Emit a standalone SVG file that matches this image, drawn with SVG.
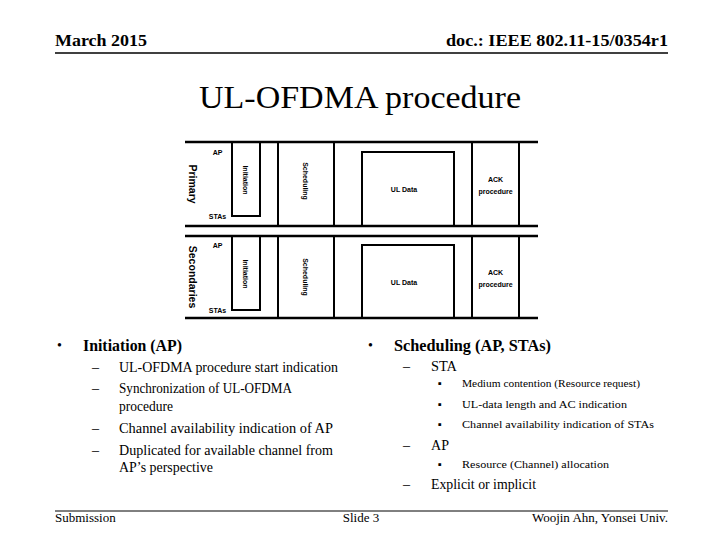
<svg xmlns="http://www.w3.org/2000/svg" width="720" height="540" viewBox="0 0 720 540">
<style>
.serif{font-family:"Liberation Serif","Times New Roman",serif;fill:#000}
.hdr{font-size:17px;font-weight:bold}
.ftr{font-size:13px}
.l1{font-size:17px;font-weight:bold}
.l2{font-size:14px}
.l3{font-size:11px}
.fig{font-family:"Liberation Sans","DejaVu Sans",sans-serif;fill:#000}
.lab{font-size:7px;font-weight:bold}
.rot{font-size:10.5px;font-weight:bold}
.ln{stroke:#000;fill:none}
</style>
<rect width="720" height="540" fill="#fff"/>
<g id="header">
<text class="serif hdr" x="55" y="46" textLength="92" lengthAdjust="spacingAndGlyphs">March 2015</text>
<text class="serif hdr" x="668" y="46" text-anchor="end" textLength="222" lengthAdjust="spacingAndGlyphs">doc.: IEEE 802.11-15/0354r1</text>
<line class="ln" x1="55" y1="53" x2="668" y2="53" stroke-width="1.5"/>
</g>
<text id="title" class="serif" x="360" y="108" font-size="32" text-anchor="middle" textLength="322" lengthAdjust="spacingAndGlyphs">UL-OFDMA procedure</text>
<g id="figure" class="ln">
<g id="row-primary" stroke-width="2.5">
<line x1="185" y1="142" x2="538" y2="142"/>
<line x1="185" y1="226" x2="538" y2="226"/>
<g stroke-width="2">
<line x1="278" y1="142" x2="278" y2="226"/>
<line x1="334" y1="142" x2="334" y2="226"/>
<line x1="472" y1="142" x2="472" y2="226"/>
<line x1="519" y1="142" x2="519" y2="226"/>
<rect x="232" y="142" width="28" height="74"/>
<rect x="362" y="152" width="92" height="74"/>
</g>
</g>
<g id="row-secondaries" stroke-width="2.5">
<line x1="185" y1="236" x2="538" y2="236"/>
<line x1="185" y1="318" x2="538" y2="318"/>
<g stroke-width="2">
<line x1="278" y1="236" x2="278" y2="318"/>
<line x1="334" y1="236" x2="334" y2="318"/>
<line x1="472" y1="236" x2="472" y2="318"/>
<line x1="519" y1="236" x2="519" y2="318"/>
<rect x="232" y="236" width="28" height="74"/>
<rect x="362" y="245" width="92" height="73"/>
</g>
</g>
</g>
<g id="figure-labels" class="fig">
<text class="rot" transform="translate(193,184) rotate(90)" text-anchor="middle" dominant-baseline="central">Primary</text>
<text class="rot" transform="translate(193,277) rotate(90)" text-anchor="middle" dominant-baseline="central">Secondaries</text>
<text class="lab" x="217.5" y="155" text-anchor="middle">AP</text>
<text class="lab" x="217.5" y="219" text-anchor="middle">STAs</text>
<text class="lab" x="217.5" y="248" text-anchor="middle">AP</text>
<text class="lab" x="217.5" y="313" text-anchor="middle">STAs</text>
<text class="lab" transform="translate(245.5,180) rotate(90)" text-anchor="middle" dominant-baseline="central">Initiation</text>
<text class="lab" transform="translate(245.5,274) rotate(90)" text-anchor="middle" dominant-baseline="central">Initiation</text>
<text class="lab" font-weight="normal" transform="translate(305.5,181) rotate(90)" text-anchor="middle" dominant-baseline="central">Scheduling</text>
<text class="lab" font-weight="normal" transform="translate(305.5,277) rotate(90)" text-anchor="middle" dominant-baseline="central">Scheduling</text>
<text class="lab" x="404" y="192" text-anchor="middle">UL Data</text>
<text class="lab" x="404" y="285" text-anchor="middle">UL Data</text>
<text class="lab" x="495.5" y="182" text-anchor="middle">ACK</text>
<text class="lab" x="495.5" y="194" text-anchor="middle">procedure</text>
<text class="lab" x="495.5" y="275" text-anchor="middle">ACK</text>
<text class="lab" x="495.5" y="287" text-anchor="middle">procedure</text>
</g>
<g id="left-column" class="serif">
<text class="l2" x="57" y="350">•</text>
<text class="l1" x="83" y="351" textLength="99" lengthAdjust="spacingAndGlyphs">Initiation (AP)</text>
<text class="l2" x="92" y="372">–</text>
<text class="l2" x="119" y="372" textLength="219" lengthAdjust="spacingAndGlyphs">UL-OFDMA procedure start indication</text>
<text class="l2" x="92" y="393">–</text>
<text class="l2" x="119" y="393" textLength="173" lengthAdjust="spacingAndGlyphs">Synchronization of UL-OFDMA</text>
<text class="l2" x="119" y="411" textLength="54" lengthAdjust="spacingAndGlyphs">procedure</text>
<text class="l2" x="92" y="433">–</text>
<text class="l2" x="119" y="433" textLength="214" lengthAdjust="spacingAndGlyphs">Channel availability indication of AP</text>
<text class="l2" x="92" y="455">–</text>
<text class="l2" x="119" y="455" textLength="214" lengthAdjust="spacingAndGlyphs">Duplicated for available channel from</text>
<text class="l2" x="119" y="472" textLength="94" lengthAdjust="spacingAndGlyphs">AP’s perspective</text>
</g>
<g id="right-column" class="serif">
<text class="l2" x="368" y="350">•</text>
<text class="l1" x="394" y="351" textLength="157" lengthAdjust="spacingAndGlyphs">Scheduling (AP, STAs)</text>
<text class="l2" x="403" y="371">–</text>
<text class="l2" x="431" y="371" textLength="26" lengthAdjust="spacingAndGlyphs">STA</text>
<text class="l3" x="438" y="387">▪</text>
<text class="l3" x="462" y="387" textLength="178" lengthAdjust="spacingAndGlyphs">Medium contention (Resource request)</text>
<text class="l3" x="438" y="408">▪</text>
<text class="l3" x="462" y="408" textLength="165" lengthAdjust="spacingAndGlyphs">UL-data length and AC indication</text>
<text class="l3" x="438" y="428">▪</text>
<text class="l3" x="462" y="428" textLength="192" lengthAdjust="spacingAndGlyphs">Channel availability indication of STAs</text>
<text class="l2" x="403" y="450">–</text>
<text class="l2" x="431" y="450" textLength="18" lengthAdjust="spacingAndGlyphs">AP</text>
<text class="l3" x="438" y="468">▪</text>
<text class="l3" x="462" y="468" textLength="147" lengthAdjust="spacingAndGlyphs">Resource (Channel) allocation</text>
<text class="l2" x="403" y="489">–</text>
<text class="l2" x="431" y="489" textLength="105" lengthAdjust="spacingAndGlyphs">Explicit or implicit</text>
</g>
<g id="footer" class="serif">
<line class="ln" x1="55" y1="511" x2="668" y2="511" stroke-width="1"/>
<text class="ftr" x="55" y="522">Submission</text>
<text class="ftr" x="361" y="522" text-anchor="middle">Slide 3</text>
<text class="ftr" x="668" y="522" text-anchor="end">Woojin Ahn, Yonsei Univ.</text>
</g>
</svg>
